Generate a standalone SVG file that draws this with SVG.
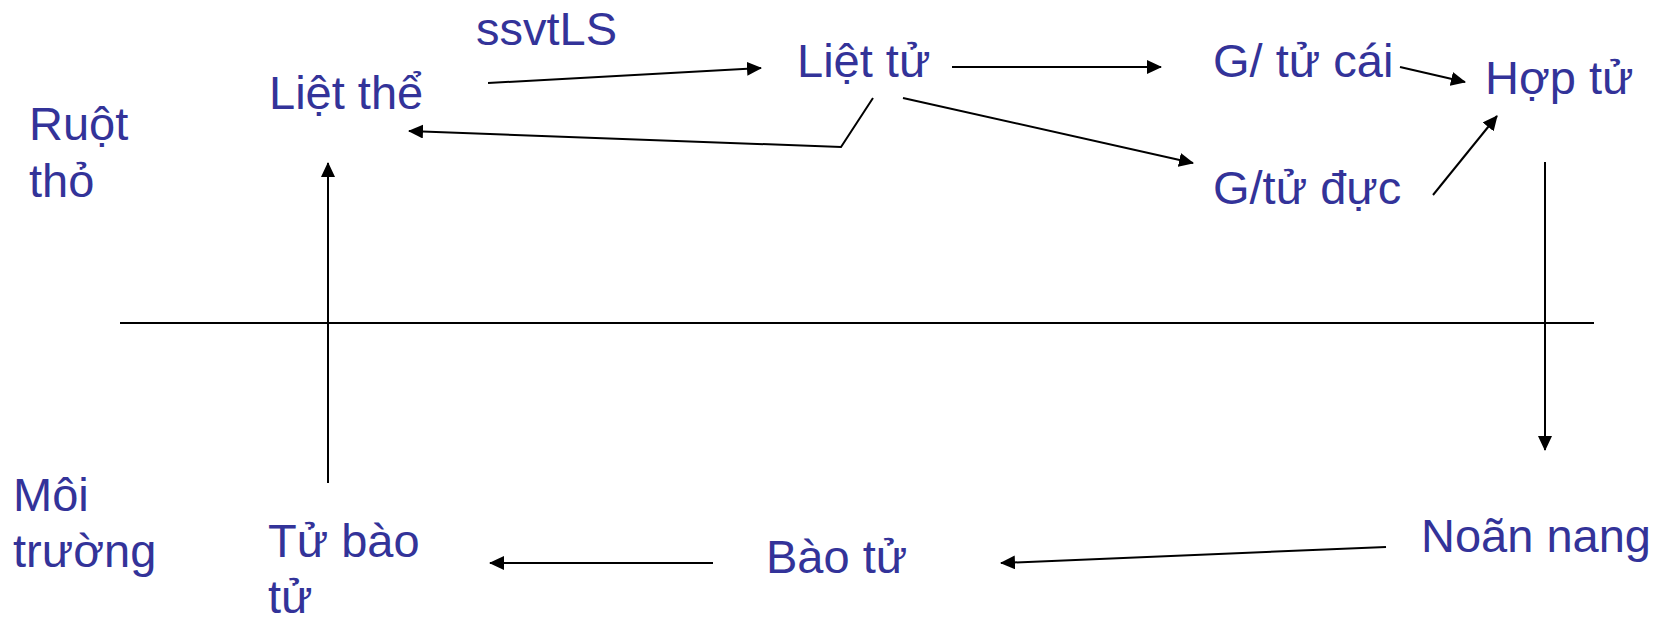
<svg xmlns="http://www.w3.org/2000/svg" width="1662" height="619" viewBox="0 0 1662 619">
  <style>
    .lbl { font-family: "Liberation Sans", Arial, sans-serif; font-size: 47px; fill: #333399; }
    .ln { stroke: #000; stroke-width: 2; fill: none; }
    .arr { marker-end: url(#head); }
  </style>
  <defs>
    <marker id="head" markerUnits="userSpaceOnUse" viewBox="0 0 15 14" markerWidth="15" markerHeight="14" refX="14" refY="7" orient="auto">
      <path d="M0,0 L15,7 L0,14 Z" fill="#000"/>
    </marker>
  </defs>
  <rect width="1662" height="619" fill="#fff"/>

  <!-- side headings -->
  <g id="ruot-tho"><text class="lbl" x="29" y="140">Ruột</text><text class="lbl" x="29" y="197">thỏ</text></g>
  <g id="moi-truong"><text class="lbl" x="13" y="511">Môi</text><text class="lbl" x="13" y="567">trường</text></g>

  <!-- stages -->
  <g id="ssvtls"><text class="lbl" x="476" y="45">ssvtLS</text></g>
  <g id="liet-the"><text class="lbl" x="269" y="109">Liệt thể</text></g>
  <g id="liet-tu"><text class="lbl" x="797" y="77">Liệt tử</text></g>
  <g id="g-tu-cai"><text class="lbl" x="1213" y="77">G/ tử cái</text></g>
  <g id="g-tu-duc"><text class="lbl" x="1213" y="204">G/tử đực</text></g>
  <g id="hop-tu"><text class="lbl" x="1485" y="94">Hợp tử</text></g>
  <g id="noan-nang"><text class="lbl" x="1421" y="552">Noãn nang</text></g>
  <g id="bao-tu"><text class="lbl" x="766" y="573">Bào tử</text></g>
  <g id="tu-bao-tu"><text class="lbl" x="268" y="557">Tử bào</text><text class="lbl" x="268" y="613">tử</text></g>

  <!-- connectors -->
  <g id="connectors">
    <line class="ln" x1="120" y1="323" x2="1594" y2="323"/>
    <line class="ln arr" x1="488" y1="83" x2="761" y2="68"/>
    <polyline class="ln arr" points="873,98 841,147 409,131"/>
    <line class="ln arr" x1="952" y1="67" x2="1161" y2="67"/>
    <line class="ln arr" x1="903" y1="98" x2="1193" y2="163"/>
    <line class="ln arr" x1="1400" y1="67" x2="1465" y2="82"/>
    <line class="ln arr" x1="1433" y1="195" x2="1497" y2="116"/>
    <line class="ln arr" x1="1545" y1="162" x2="1545" y2="450"/>
    <line class="ln arr" x1="1386" y1="547" x2="1001" y2="563"/>
    <line class="ln arr" x1="713" y1="563" x2="490" y2="563"/>
    <line class="ln arr" x1="328" y1="483" x2="328" y2="163"/>
  </g>
</svg>
